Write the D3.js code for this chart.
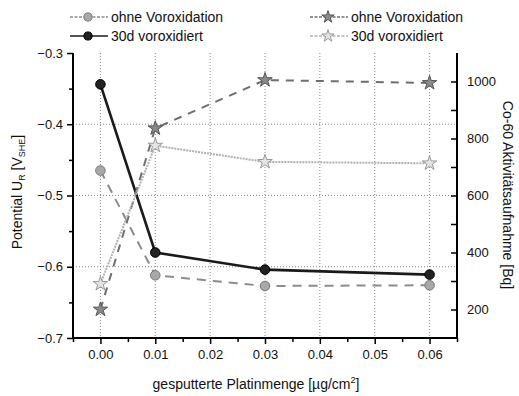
<!DOCTYPE html>
<html lang="de">
<head>
<meta charset="UTF-8">
<title>Potential und Co-60 Aktivitätsaufnahme</title>
<script src="https://d3js.org/d3.v7.min.js"></script>
<style>
    body { margin: 0; background: #fff; }
    text { font-family: "Liberation Sans", Arial, sans-serif; fill: #111; }
    .axis path, .axis line { stroke: #000; }
    .axis text { font-size: 13px; }
    .grid line { stroke: #8a8a8a; stroke-width: 1; stroke-dasharray: 1,2; }
</style>
</head>
<body>
<svg id="chart" width="519" height="396"></svg>
<script>
// data
const platin = [0.00, 0.01, 0.03, 0.06];
const potOhne = [-0.465, -0.612, -0.627, -0.626];
const pot30d = [-0.344, -0.580, -0.604, -0.611];
const coOhne = [200, 836, 1005, 995];
const co30d = [290, 775, 718, 713];

const xTicks = [0.00, 0.01, 0.02, 0.03, 0.04, 0.05, 0.06];
const yLeftTicks = [-0.7, -0.6, -0.5, -0.4, -0.3];
const yRightTicks = [200, 400, 600, 800, 1000];

const svg = d3.select("#chart");
const pLeft = 73, pRight = 457, pTop = 53, pBottom = 338;

const x = d3.scaleLinear().domain([-0.005, 0.065]).range([pLeft, pRight]);
const yL = d3.scaleLinear().domain([-0.7, -0.3]).range([pBottom, pTop]);
const yR = d3.scaleLinear().domain([100, 1100]).range([pBottom, pTop]);

// grid
const grid = svg.append("g").attr("class", "grid");
grid.selectAll(".gx").data(xTicks).enter().append("line")
    .attr("x1", d => x(d)).attr("x2", d => x(d))
    .attr("y1", pTop).attr("y2", pBottom);
grid.selectAll(".gy").data([-0.6, -0.5, -0.4]).enter().append("line")
    .attr("x1", pLeft).attr("x2", pRight)
    .attr("y1", d => yL(d)).attr("y2", d => yL(d));

// series
const series = [
    {name: "ohne Voroxidation", vals: potOhne, y: yL, color: "#8c8c8c", width: 2, dash: "9,7", marker: "circle", fill: "#a8a8a8", stroke: "#777"},
    {name: "30d voroxidiert", vals: pot30d, y: yL, color: "#1a1a1a", width: 2.6, dash: null, marker: "circle", fill: "#222", stroke: "#000"},
    {name: "ohne Voroxidation", vals: coOhne, y: yR, color: "#6e6e6e", width: 2, dash: "8,7", marker: "star", fill: "#8a8a8a", stroke: "#555"},
    {name: "30d voroxidiert", vals: co30d, y: yR, color: "#b0b0b0", width: 2, dash: "2,1", marker: "star", fill: "#e4e4e4", stroke: "#999"}
];

function drawMarker(g, s, cx, cy, scale) {
    const k = scale || 1;
    if (s.marker === "circle") {
        g.append("circle").attr("cx", cx).attr("cy", cy).attr("r", 4.8 * k)
            .attr("fill", s.fill).attr("stroke", s.stroke).attr("stroke-width", 1);
    } else {
        g.append("path").attr("d", d3.symbol().type(d3.symbolStar).size(65 * k * k)())
            .attr("transform", `translate(${cx},${cy})`)
            .attr("fill", s.fill).attr("stroke", s.stroke).attr("stroke-width", 1);
    }
}

series.forEach(s => {
    const line = d3.line().x((d, i) => x(platin[i])).y(d => s.y(d));
    svg.append("path").datum(s.vals)
        .attr("d", line)
        .attr("fill", "none")
        .attr("stroke", s.color)
        .attr("stroke-width", s.width)
        .attr("stroke-dasharray", s.dash);
    const g = svg.append("g");
    s.vals.forEach((v, i) => drawMarker(g, s, x(platin[i]), s.y(v)));
});

// axes
const minorX = [-0.005, 0.005, 0.015, 0.025, 0.035, 0.045, 0.055, 0.065];
svg.append("g").attr("class", "axis").attr("transform", `translate(0,${pBottom})`)
    .call(d3.axisBottom(x).tickValues(minorX).tickSize(4).tickFormat(""))
    .call(g => g.select(".domain").remove())
    .call(g => g.selectAll("line").attr("stroke-width", 1.5));
svg.append("g").attr("class", "axis").attr("transform", `translate(0,${pBottom})`)
    .call(d3.axisBottom(x).tickValues(xTicks).tickSize(6).tickSizeOuter(0).tickPadding(6).tickFormat(d3.format(".2f")))
    .call(g => g.select(".domain").attr("stroke-width", 2).attr("d", `M${pLeft - 1},0H${pRight + 1}`))
    .call(g => g.selectAll("line").attr("stroke-width", 1.5));

const minorYL = [-0.65, -0.55, -0.45, -0.35];
svg.append("g").attr("class", "axis").attr("transform", `translate(${pLeft},0)`)
    .call(d3.axisLeft(yL).tickValues(minorYL).tickSize(4).tickFormat(""))
    .call(g => g.select(".domain").remove())
    .call(g => g.selectAll("line").attr("stroke-width", 1.5));
svg.append("g").attr("class", "axis").attr("transform", `translate(${pLeft},0)`)
    .call(d3.axisLeft(yL).tickValues(yLeftTicks).tickSize(6).tickSizeOuter(0).tickPadding(4).tickFormat(d3.format(".1f")))
    .call(g => g.select(".domain").attr("stroke-width", 2).attr("d", `M0,${pTop}V${pBottom + 1}`))
    .call(g => g.selectAll("line").attr("stroke-width", 1.5));

const minorYR = [300, 500, 700, 900];
svg.append("g").attr("class", "axis").attr("transform", `translate(${pRight},0)`)
    .call(d3.axisRight(yR).tickValues(minorYR).tickSize(-6).tickFormat(""))
    .call(g => g.select(".domain").remove())
    .call(g => g.selectAll("line").attr("stroke-width", 1.5));
svg.append("g").attr("class", "axis").attr("transform", `translate(${pRight},0)`)
    .call(d3.axisRight(yR).tickValues(yRightTicks).tickSize(-6).tickSizeOuter(0).tickPadding(10).tickFormat(d3.format("d")))
    .call(g => g.select(".domain").attr("stroke-width", 2).attr("d", `M0,${pTop}V${pBottom + 1}`))
    .call(g => g.selectAll("line").attr("stroke-width", 1.5));

// axis titles
const yt = svg.append("text").attr("transform", "translate(22,192) rotate(-90)")
    .attr("text-anchor", "middle").attr("font-size", 14);
yt.append("tspan").text("Potential U");
yt.append("tspan").attr("font-size", 9).attr("dy", 3).text("R");
yt.append("tspan").attr("dy", -3).text(" [V");
yt.append("tspan").attr("font-size", 9).attr("dy", 3).text("SHE");
yt.append("tspan").attr("dy", -3).text("]");

svg.append("text").attr("transform", "translate(503,195) rotate(90)")
    .attr("text-anchor", "middle").attr("font-size", 14)
    .text("Co-60 Aktivitätsaufnahme [Bq]");

const xt = svg.append("text").attr("x", 256).attr("y", 389)
    .attr("text-anchor", "middle").attr("font-size", 14);
xt.append("tspan").text("gesputterte Platinmenge [µg/cm");
xt.append("tspan").attr("font-size", 9).attr("dy", -6).text("2");
xt.append("tspan").attr("dy", 6).text("]");

// legend
const legendPos = [
    {x: 70, y: 17}, {x: 70, y: 36},
    {x: 310, y: 17}, {x: 310, y: 36}
];
series.forEach((s, i) => {
    const p = legendPos[i];
    const g = svg.append("g");
    g.append("line").attr("x1", p.x).attr("x2", p.x + 38)
        .attr("y1", p.y).attr("y2", p.y)
        .attr("stroke", s.color).attr("stroke-width", 1.6)
        .attr("stroke-dasharray", s.dash ? "3,1.5" : null);
    drawMarker(g, s, p.x + 18, p.y, 0.85);
    g.append("text").attr("x", p.x + 41).attr("y", p.y + 5)
        .attr("font-size", 14).text(s.name);
});
</script>
</body>
</html>
